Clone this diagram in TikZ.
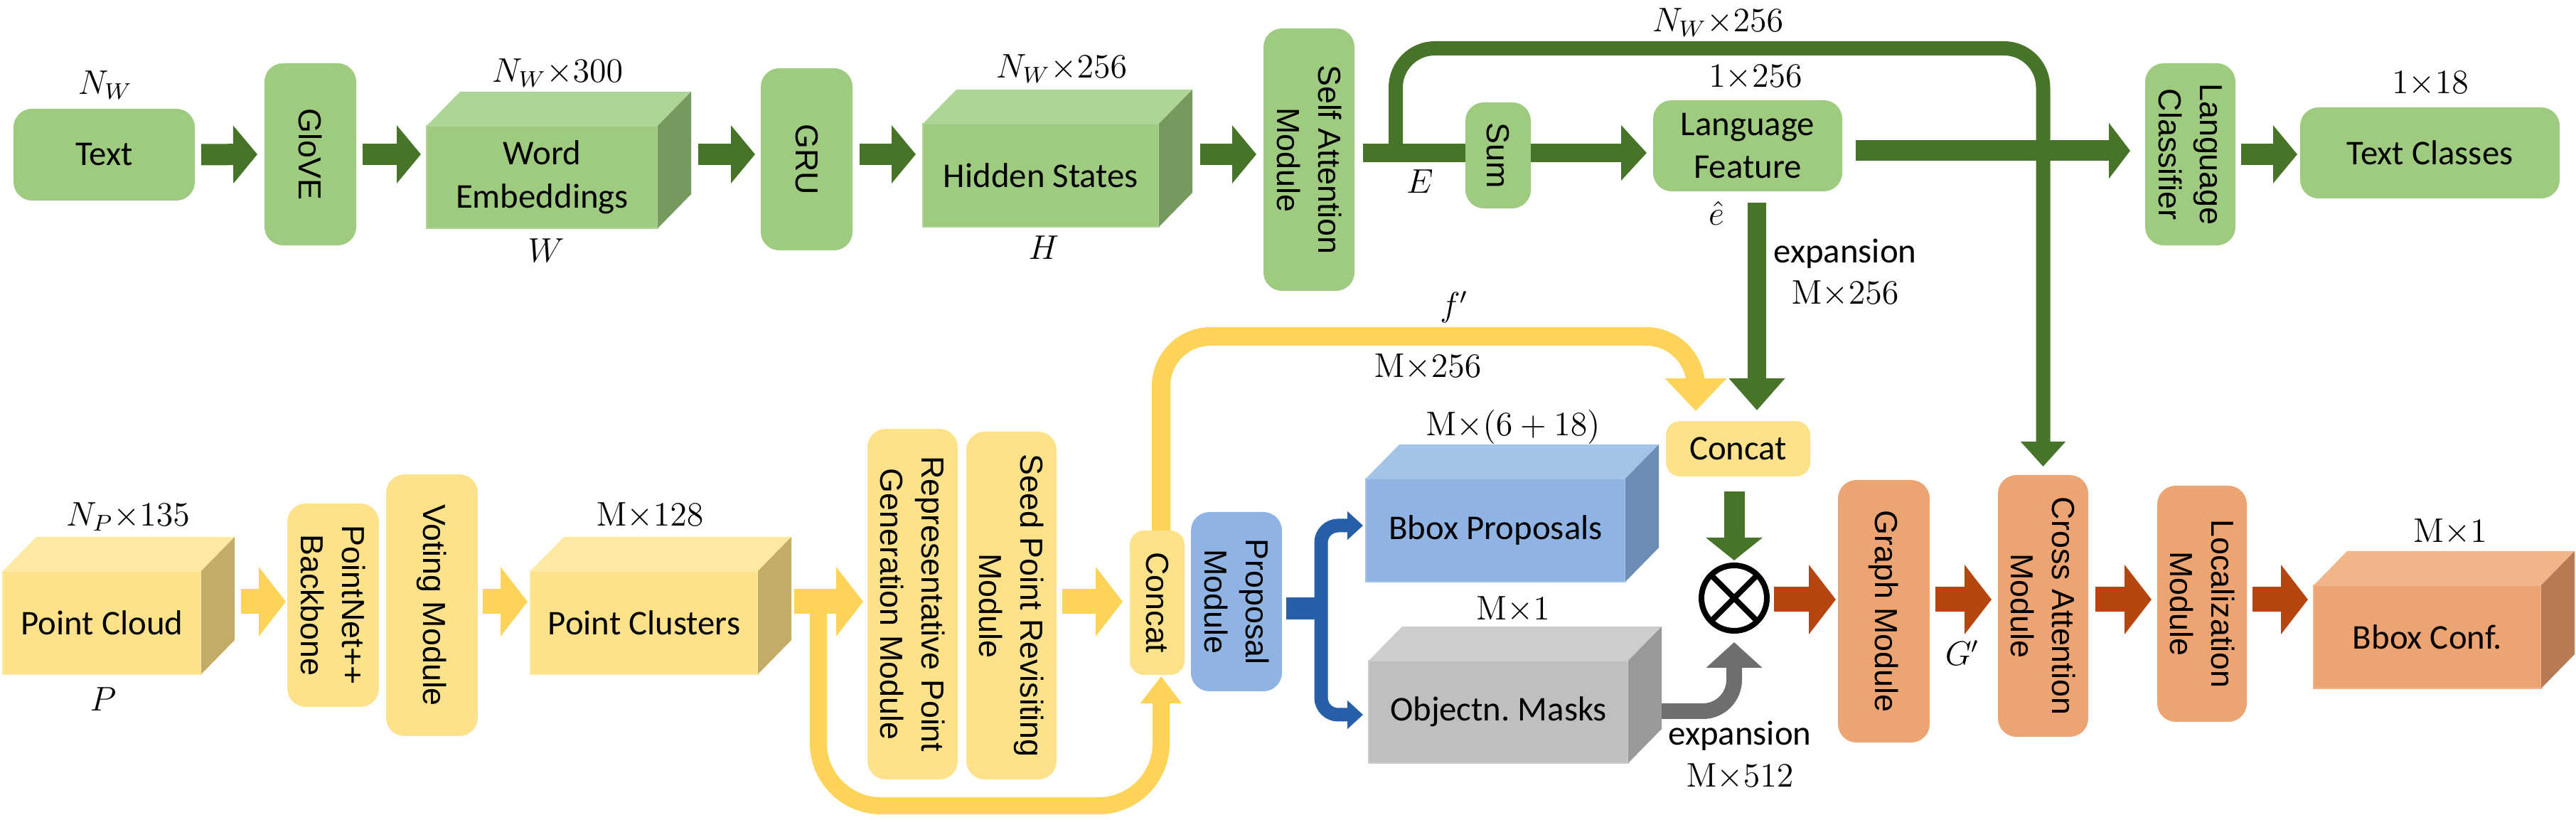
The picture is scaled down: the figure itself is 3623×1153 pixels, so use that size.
\documentclass[tikz,border=0pt]{standalone}
\usepackage[no-math]{fontspec}
\setmainfont{Carlito}
\newfontfamily\arialf{Liberation Sans}
\usetikzlibrary{arrows.meta}
\definecolor{gF}{RGB}{158,203,128}
\definecolor{gT}{RGB}{175,213,150}
\definecolor{gS}{RGB}{118,153,93}
\definecolor{gA}{RGB}{71,116,41}
\definecolor{yF}{RGB}{253,226,139}
\definecolor{yT}{RGB}{254,233,162}
\definecolor{yS}{RGB}{195,172,101}
\definecolor{yA}{RGB}{253,212,89}
\definecolor{bF}{RGB}{143,180,227}
\definecolor{bT}{RGB}{163,195,232}
\definecolor{bS}{RGB}{108,141,180}
\definecolor{bA}{RGB}{38,94,168}
\definecolor{rF}{RGB}{191,191,191}
\definecolor{rT}{RGB}{205,205,205}
\definecolor{rS}{RGB}{153,153,153}
\definecolor{rA}{RGB}{110,110,110}
\definecolor{oF}{RGB}{237,164,115}
\definecolor{oT}{RGB}{241,181,140}
\definecolor{oS}{RGB}{184,122,85}
\definecolor{oA}{RGB}{181,70,16}
\newcommand\hfont{\fontsize{12.2}{15.2}\selectfont}
\newcommand\vfont{\arialf\fontsize{11.2}{14.5}\selectfont}
\newcommand\mfont{\fontsize{12}{14}\selectfont}
\newcommand\mycube[3]{%
  \fill[#2] (#1.north west) -- ++(47,-48) -- ([shift={(47,-48)}]#1.north east) -- (#1.north east) -- cycle;
  \fill[#3] (#1.north east) -- ++(47,-48) -- ([shift={(47,-48)}]#1.south east) -- (#1.south east) -- cycle;}
\begin{document}
\begin{tikzpicture}[x=0.25pt,y=-0.25pt,
  box/.style={rounded corners=6.5pt, inner sep=0pt, outer sep=0pt},
  vt/.style={rotate=-90, align=center, font=\vfont, inner sep=0pt},
  ht/.style={align=center, font=\hfont, inner sep=0pt},
  ml/.style={inner sep=0pt, font=\mfont},
  face/.style={inner sep=0pt, outer sep=0pt, align=center, font=\hfont, line width=0.5pt},
  tar/.style={line width=7.5pt, -{Triangle[length=8.5pt,width=20pt]}},
  bar/.style={line width=8.75pt, -{Triangle[length=9.5pt,width=24pt]}}]
\useasboundingbox (0,0) rectangle (3623,1153);

% ---------------- top row ----------------
\node[box, ht, fill=gF, minimum width=63.75pt, minimum height=32.25pt] (text) at (146.5,217.5) {Text};
\node[box, fill=gF, minimum width=32.25pt, minimum height=64pt] (glove) at (436.5,217) {};
\node[vt] (gloveT) at (glove) {GloVE};
\node[face, fill=gF, draw=gT, minimum width=81.25pt, minimum height=36pt] (we) at (762.5,249) {Word\\Embeddings};
\mycube{we}{gT}{gS}
\node[box, fill=gF, minimum width=32.25pt, minimum height=64pt] (gru) at (1134.5,224) {};
\node[vt] (gruT) at (gru) {GRU};
\node[face, fill=gF, draw=gT, minimum width=83pt, minimum height=36.25pt] (hs) at (1464,246.5) {Hidden States};
\mycube{hs}{gT}{gS}
\node[box, fill=gF, minimum width=32pt, minimum height=92.25pt] (sa) at (1841,224.5) {};
\node[vt] (saT) at (sa) {Self Attention\\Module};
\node[box, fill=gF, minimum width=23pt, minimum height=37.25pt] (sum) at (2107,218.5) {};
\node[vt] (sumT) at (sum) {Sum};
\node[box, ht, fill=gF, minimum width=66.5pt, minimum height=32pt] (lf) at (2458,205) {Language\\Feature};
\node[box, fill=gF, minimum width=31.75pt, minimum height=64pt] (lc) at (3080.5,217) {};
\node[vt] (lcT) at (lc) {Language\\Classifier};
\node[box, ht, fill=gF, minimum width=91.25pt, minimum height=32pt] (tc) at (3417.5,215) {Text Classes};

% ---------------- bottom row ----------------
\node[face, fill=yF, draw=yT, minimum width=69.75pt, minimum height=36.25pt] (pc) at (143.5,875.5) {Point Cloud};
\mycube{pc}{yT}{yS}
\node[box, fill=yF, minimum width=32.25pt, minimum height=71.5pt] (pn) at (468.5,851) {};
\node[vt] (pnT) at (pn) {PointNet++\\Backbone};
\node[box, fill=yF, minimum width=32.25pt, minimum height=92pt] (vm) at (607.5,851) {};
\node[vt] (vmT) at (vm) {Voting Module};
\node[face, fill=yF, draw=yT, minimum width=80pt, minimum height=36.25pt] (pcl) at (906,875.5) {Point Clusters};
\mycube{pcl}{yT}{yS}
\node[box, fill=yF, minimum width=31.75pt, minimum height=123.25pt] (rp) at (1283.5,849.5) {};
\node[vt] (rpT) at (rp) {Representative Point\\Generation Module};
\node[box, fill=yF, minimum width=31.75pt, minimum height=122.25pt] (sp) at (1422.5,851.5) {};
\node[vt] (spT) at (sp) {Seed Point Revisiting\\Module};
\node[box, rounded corners=5pt, fill=yF, minimum width=19.25pt, minimum height=50.75pt] (cc) at (1627.5,847.5) {};
\node[vt] (ccT) at (cc) {Concat};
\node[box, fill=bF, minimum width=32pt, minimum height=63pt] (pm) at (1739,846) {};
\node[vt] (pmT) at (pm) {Proposal\\Module};
\node[face, fill=bF, draw=bT, minimum width=91.25pt, minimum height=36.25pt] (bb) at (2103.5,745.5) {Bbox Proposals};
\mycube{bb}{bT}{bS}
\node[face, fill=rF, draw=rT, minimum width=91.25pt, minimum height=36pt] (om) at (2107.5,1001) {Objectn.\ Masks};
\mycube{om}{rT}{rS}
\node[box, ht, rounded corners=5pt, fill=yF, minimum width=50.75pt, minimum height=19.5pt] (cc2) at (2444.5,631) {Concat};
\node[circle, draw=black, line width=2pt, minimum size=23pt, inner sep=0pt, outer sep=0pt] (ot) at (2439,841) {};
\draw[line width=2pt] (ot.north west) -- (ot.south east) (ot.north east) -- (ot.south west);
\node[box, fill=oF, minimum width=32.25pt, minimum height=92.25pt] (gm) at (2649.5,859.5) {};
\node[vt] (gmT) at (gm) {Graph Module};
\node[box, fill=oF, minimum width=31.75pt, minimum height=92pt] (ca) at (2873.5,852) {};
\node[vt] (caT) at (ca) {Cross Attention\\Module};
\node[box, fill=oF, minimum width=31.5pt, minimum height=83pt] (lm) at (3097,849) {};
\node[vt] (lmT) at (lm) {Localization\\Module};
\node[face, fill=oF, draw=oT, minimum width=80pt, minimum height=36.25pt] (bc) at (3414,895.5) {Bbox Conf.};
\mycube{bc}{oT}{oS}

% ---------------- labels ----------------
\node[ml] (l1) at (148,120) {$N_W$};
\node[ml] (l2) at (784,103) {$N_W{\times}300$};
\node[ml] (l3) at (768,352) {$W$};
\node[ml] (l4) at (1493,97) {$N_W{\times}256$};
\node[ml] (l5) at (1468,348) {$H$};
\node[ml] (l6) at (1997,255) {$E$};
\node[ml] (l7) at (2416,32) {$N_W{\times}256$};
\node[ml] (l8) at (2469,109) {$1{\times}256$};
\node[ml] (l9) at (2414,300) {$\hat{e}$};
\node[ht] (l10) at (2595,357) {expansion};
\node[ml] (l11) at (2595,413) {$\mathrm{M}{\times}256$};
\node[ml] (l12) at (3418,118) {$1{\times}18$};
\node[ml] (l13) at (180,727) {$N_P{\times}135$};
\node[ml] (l14) at (145,983) {$P$};
\node[ml] (l15) at (914,725) {$\mathrm{M}{\times}128$};
\node[ml] (l16) at (2045,432) {$f'$};
\node[ml] (l17) at (2008,516) {$\mathrm{M}{\times}256$};
\node[ml] (l18) at (2128,601) {$\mathrm{M}{\times}(6+18)$};
\node[ml] (l19) at (2128,857) {$\mathrm{M}{\times}1$};
\node[ht] (l20) at (2447,1035) {expansion};
\node[ml] (l21) at (2447,1092) {$\mathrm{M}{\times}512$};
\node[ml] (l22) at (2760,918) {$G'$};
\node[ml] (l23) at (3446,748) {$\mathrm{M}{\times}1$};

% ---------------- top connectors ----------------
\draw[tar, color=gA] ([xshift=2.25pt]text.east) -- ([xshift=-2.5pt]glove.west);
\draw[tar, color=gA] ([xshift=2.25pt]glove.east) -- ([xshift=-2pt,yshift=8pt]we.west);
\draw[tar, color=gA] ([xshift=14.25pt,yshift=8pt]we.east) -- ([xshift=-2pt,yshift=1.75pt]gru.west);
\draw[tar, color=gA] ([xshift=2.5pt,yshift=1.75pt]gru.east) -- ([xshift=-2.5pt,yshift=7.375pt]hs.west);
\draw[tar, color=gA] ([xshift=14.5pt,yshift=7.375pt]hs.east) -- ([xshift=-2.5pt,yshift=1.875pt]sa.west);
\draw[color=gA, line width=6.5pt] ([xshift=3pt,yshift=2.375pt]sa.east) -- ([yshift=0.875pt]sum.west);
\draw[color=gA, line width=6.5pt, -{Triangle[length=9pt,width=19pt]}] ([yshift=0.875pt]sum.east) -- ([xshift=-2.25pt,yshift=-2.5pt]lf.west);
\coordinate (eb) at (1963,215);
\coordinate (ebt) at (1963,68);
\draw[color=gA, line width=5pt, rounded corners=13.75pt, -{Triangle[length=8.75pt,width=15.25pt]}]
  (eb) -- (ebt) -- (ebt -| ca.north) -- ([yshift=3pt]ca.north);
\draw[color=gA, line width=7.25pt, -{Triangle[length=7.5pt,width=19.25pt]}] ([xshift=4.75pt,yshift=-1.75pt]lf.east) -- ([xshift=-5.25pt,yshift=1.25pt]lc.west);
\draw[tar, color=gA] ([xshift=2pt]lc.east) -- ([xshift=-1pt,yshift=-0.5pt]tc.west);
\coordinate (lfd) at ([xshift=3.25pt,yshift=-4pt]lf.south);
\draw[color=gA, line width=6.5pt, shorten >=3.75pt, -{Triangle[length=11.25pt,width=19pt]}] (lfd) -- (lfd |- cc2.north);

% ---------------- bottom connectors ----------------
\draw[bar, color=yA] ([xshift=14pt,yshift=7.375pt]pc.east) -- ([xshift=-0.5pt,yshift=1.25pt]pn.west);
\draw[bar, color=yA] ([xshift=1.75pt,yshift=1.25pt]vm.east) -- ([xshift=-1pt,yshift=7.375pt]pcl.west);
\draw[bar, color=yA] ([xshift=12.75pt,yshift=7.375pt]pcl.east) -- ([xshift=-1.5pt,yshift=0.875pt]rp.west);
\draw[bar, color=yA] ([xshift=2pt,yshift=1.375pt]sp.east) -- ([xshift=-2.5pt,yshift=0.375pt]cc.west);
\coordinate (lb) at (1151,846);
\coordinate (lbot) at (0,1133);
\coordinate (le) at ([xshift=1.375pt,yshift=-0.5pt]cc.south);
\draw[color=yA, line width=6pt, rounded corners=22pt, -{Triangle[length=9.5pt,width=14pt]}]
  (lb) -- (lb |- lbot) -- (le |- lbot) -- (le);
\coordinate (fb) at ([xshift=1.375pt]cc.north);
\coordinate (ftop) at (0,473);
\coordinate (fe) at ([xshift=-14.875pt,yshift=3.5pt]cc2.north);
\draw[color=yA, line width=6.5pt, rounded corners=17.5pt, -{Triangle[length=11.5pt,width=21pt]}]
  (fb) -- (fb |- ftop) -- (fe |- ftop) [rounded corners=14pt] -- (fe);
\coordinate (bj) at (1858,856);
\draw[color=bA, line width=7.75pt] ([xshift=1.5pt,yshift=-2.5pt]pm.east) -- (bj);
\draw[color=bA, line width=4.75pt, rounded corners=6pt, -{Triangle[length=5.5pt,width=9.75pt]}] (bj) |- ([xshift=-1pt,yshift=1.625pt]bb.west);
\draw[color=bA, line width=4.75pt, rounded corners=6pt, -{Triangle[length=5.5pt,width=9.75pt]}] (bj) |- ([xshift=-2pt,yshift=-1pt]om.west);
\coordinate (gs) at ([xshift=11.75pt,yshift=0.25pt]om.east);
\draw[color=rA, line width=5.5pt, rounded corners=11pt, -{Triangle[length=9pt,width=19.25pt]}] (gs) -| ([yshift=-4pt]ot.south);
\draw[color=gA, line width=7.25pt, -{Triangle[length=8pt,width=19.5pt]}] ([xshift=-1.375pt,yshift=-5.25pt]cc2.south) -- ([yshift=1.75pt]ot.north);
\draw[bar, color=oA] ([xshift=2.5pt,yshift=-0.5pt]ot.east) -- ([xshift=-0.75pt,yshift=4.125pt]gm.west);
\draw[bar, color=oA] ([xshift=2pt,yshift=4.125pt]gm.east) -- ([xshift=-2.25pt,yshift=2.25pt]ca.west);
\draw[bar, color=oA] ([xshift=2.5pt,yshift=2.25pt]ca.east) -- ([xshift=-2pt,yshift=1.5pt]lm.west);
\draw[bar, color=oA] ([xshift=2pt,yshift=1.5pt]lm.east) -- ([xshift=-2pt,yshift=13.125pt]bc.west);
\end{tikzpicture}
\end{document}
